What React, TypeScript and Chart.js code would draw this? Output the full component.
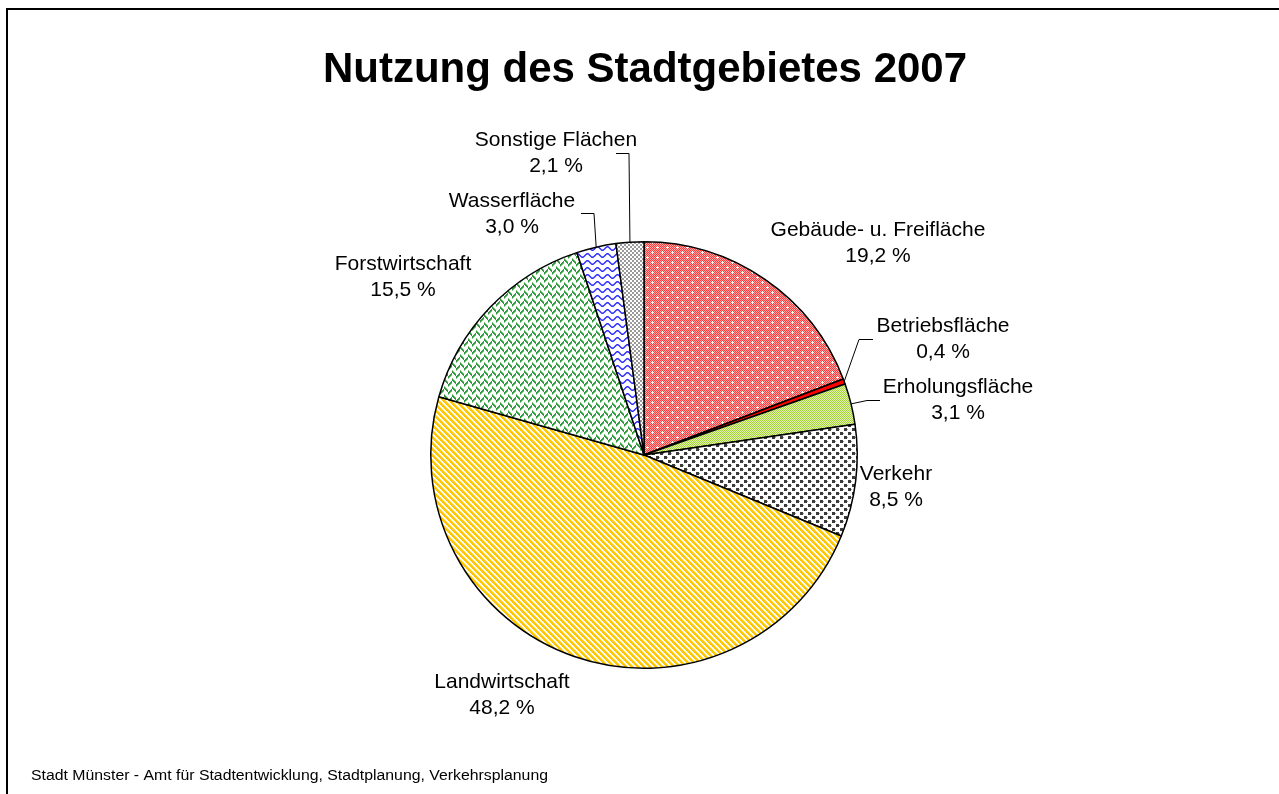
import React, { useEffect, useRef } from "react";
import { Chart, registerables } from "chart.js";

Chart.register(...registerables);

const title = "Nutzung des Stadtgebietes 2007";
const footer = "Stadt Münster - Amt für Stadtentwicklung, Stadtplanung, Verkehrsplanung";
const categories = [
  "Gebäude- u. Freifläche",
  "Betriebsfläche",
  "Erholungsfläche",
  "Verkehr",
  "Landwirtschaft",
  "Forstwirtschaft",
  "Wasserfläche",
  "Sonstige Flächen",
];
const shares = [19.2, 0.4, 3.1, 8.5, 48.2, 15.5, 3.0, 2.1];

// layout (label centres and leader elbows) — not data
const labelPos = [
  [878, 230],
  [943, 326],
  [958, 387],
  [896, 474],
  [502, 682],
  [403, 264],
  [512, 201],
  [556, 140],
];
const leaders: (number[] | null)[] = [
  null,
  [873, 859, 339],
  [880, 867, 400],
  null,
  null,
  null,
  [581, 594, 213],
  [616, 629, 153],
];

const FONT = '"Liberation Sans", Arial, Helvetica, sans-serif';

function tile(w: number, h: number, draw: (c: CanvasRenderingContext2D) => void): CanvasPattern | string {
  const cv = document.createElement("canvas");
  cv.width = w;
  cv.height = h;
  const c = cv.getContext("2d")!;
  draw(c);
  return c.createPattern(cv, "repeat") || "#888";
}

function px(c: CanvasRenderingContext2D, x: number, y: number, col: string) {
  c.fillStyle = col;
  c.fillRect(x, y, 1, 1);
}

function makePatterns() {
  const red = tile(10, 10, (c) => {
    for (let y = 0; y < 10; y++)
      for (let x = 0; x < 10; x++) px(c, x, y, (x + y) % 2 === 0 ? "#FF3C3C" : "#FFA6A6");
    const plus = (cx: number, cy: number) => {
      [[0, 0], [1, 0], [-1, 0], [0, 1], [0, -1]].forEach(([dx, dy]) => px(c, cx + dx, cy + dy, "#FFFFFF"));
    };
    plus(2, 2);
    plus(7, 7);
  });
  const solidRed = "#FF0000";
  const green = tile(2, 2, (c) => {
    for (let y = 0; y < 2; y++)
      for (let x = 0; x < 2; x++) px(c, x, y, (x + y) % 2 === 0 ? "#A4D23A" : "#E4F3B0");
  });
  const dots = tile(8, 8, (c) => {
    c.fillStyle = "#FFFFFF";
    c.fillRect(0, 0, 8, 8);
    c.fillStyle = "#3C3C3C";
    c.fillRect(0, 0, 3, 3);
    c.fillRect(4, 4, 3, 3);
    c.fillStyle = "#9A9A9A";
    c.fillRect(3, 1, 1, 1);
    c.fillRect(7, 5, 1, 1);
  });
  const stripes = tile(6, 6, (c) => {
    for (let y = 0; y < 6; y++)
      for (let x = 0; x < 6; x++) {
        const k = (((x - y) % 6) + 6) % 6;
        px(c, x, y, k < 3 ? "#FFC800" : k === 3 ? "#FFE27A" : "#FFFFFF");
      }
  });
  const weave = tile(8, 8, (c) => {
    c.fillStyle = "#FFFFFF";
    c.fillRect(0, 0, 8, 8);
    for (let y = 0; y < 8; y++)
      for (let x = 0; x < 8; x++) {
        const a = x < 4 ? (x + y) % 8 : (((x - y) % 8) + 8) % 8;
        if (a < 2) px(c, x, y, "#2F9A3A");
        else if (a === 2) px(c, x, y, "#8CC98E");
      }
  });
  const waves = tile(10, 7, (c) => {
    c.fillStyle = "#FFFFFF";
    c.fillRect(0, 0, 10, 7);
    c.strokeStyle = "#2B2BFF";
    c.lineWidth = 1.4;
    c.beginPath();
    for (let x = -1; x <= 11; x += 0.5) {
      const y = 3.5 + 1.8 * Math.sin((2 * Math.PI * x) / 10);
      if (x === -1) c.moveTo(x, y);
      else c.lineTo(x, y);
    }
    c.stroke();
  });
  const checks = tile(4, 4, (c) => {
    c.fillStyle = "#FFFFFF";
    c.fillRect(0, 0, 4, 4);
    c.fillStyle = "#9A9A9A";
    c.fillRect(0, 0, 2, 2);
    c.fillRect(2, 2, 2, 2);
  });
  return [red, solidRed, green, dots, stripes, weave, waves, checks];
}

const fmt = (v: number) => v.toFixed(1).replace(".", ",") + " %";

function fitText(ctx: CanvasRenderingContext2D, text: string, x: number, y: number, width: number) {
  const w = ctx.measureText(text).width;
  ctx.save();
  ctx.translate(x, y);
  ctx.scale(width / w, 1);
  ctx.fillText(text, 0, 0);
  ctx.restore();
}

export default function App() {
  const ref = useRef<HTMLCanvasElement | null>(null);
  useEffect(() => {
    const canvas = ref.current!;
    const overlay = {
      id: "overlay",
      afterDraw(chart: any) {
        const ctx: CanvasRenderingContext2D = chart.ctx;
        ctx.save();
        // frame
        ctx.strokeStyle = "#000";
        ctx.lineWidth = 2;
        ctx.beginPath();
        ctx.moveTo(7, 800);
        ctx.lineTo(7, 9);
        ctx.lineTo(1290, 9);
        ctx.stroke();
        // title
        ctx.fillStyle = "#000";
        ctx.textAlign = "center";
        ctx.textBaseline = "middle";
        ctx.font = `bold 42px ${FONT}`;
        ctx.fillText(title, 645, 70);
        // footer
        ctx.textAlign = "left";
        ctx.font = `14px ${FONT}`;
        fitText(ctx, footer, 31, 776, 517);
        // labels
        const meta = chart.getDatasetMeta(0);
        ctx.font = `21px ${FONT}`;
        ctx.textAlign = "center";
        categories.forEach((cat, i) => {
          const [lx, ly] = labelPos[i];
          ctx.fillText(cat, lx, ly);
          ctx.fillText(fmt(shares[i]), lx, ly + 26);
          const ld = leaders[i];
          if (ld) {
            const arc = meta.data[i];
            const p = arc.getProps(["x", "y", "startAngle", "endAngle", "outerRadius"], true);
            const mid = (p.startAngle + p.endAngle) / 2;
            const ex = p.x + Math.cos(mid) * p.outerRadius;
            const ey = p.y + Math.sin(mid) * p.outerRadius;
            ctx.strokeStyle = "#000";
            ctx.lineWidth = 1;
            ctx.beginPath();
            ctx.moveTo(ld[0], ld[2] + 0.5);
            ctx.lineTo(ld[1], ld[2] + 0.5);
            ctx.lineTo(ex, ey);
            ctx.stroke();
          }
        });
        ctx.restore();
      },
    };
    const chart = new Chart(canvas, {
      type: "pie",
      data: {
        labels: categories,
        datasets: [
          {
            data: shares,
            backgroundColor: makePatterns() as any,
            borderColor: "#000000",
            borderWidth: 1.5,
          },
        ],
      },
      options: {
        responsive: false,
        animation: false,
        events: [],
        layout: { padding: { left: 430, right: 421, top: 241, bottom: 125 } },
        plugins: {
          legend: { display: false },
          tooltip: { enabled: false },
          title: { display: false },
        },
      },
      plugins: [overlay],
    });
    return () => chart.destroy();
  }, []);
  return (
    <div style={{ position: "fixed", left: 0, top: 0, width: 1279, height: 794, background: "#fff" }}>
      <canvas ref={ref} width={1279} height={794} style={{ display: "block", width: 1279, height: 794 }} />
    </div>
  );
}
